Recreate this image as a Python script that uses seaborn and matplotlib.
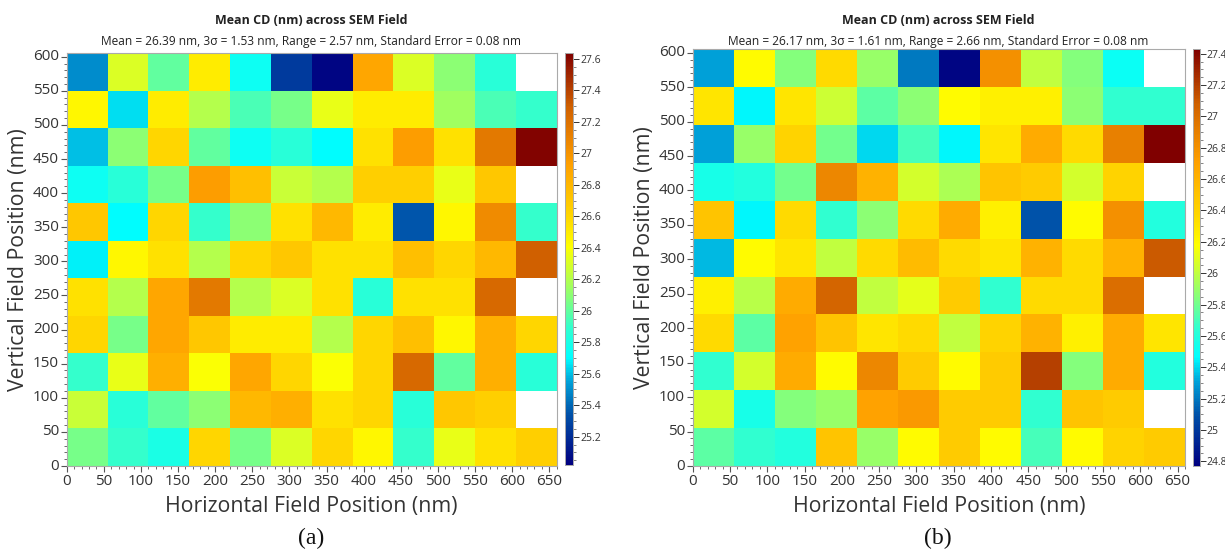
import numpy as np
import pandas as pd
import matplotlib
matplotlib.use("Agg")
import matplotlib.pyplot as plt
from matplotlib.colors import LinearSegmentedColormap
from matplotlib.ticker import MultipleLocator, FormatStrFormatter
import seaborn as sns

nan = np.nan
# cell size (nm) and positions
cell_nm = 55
x_pos = [i * cell_nm for i in range(12)]
y_pos = [i * cell_nm for i in range(11)]  # bottom to top

# rows listed top (y ~ 550-605) to bottom (y 0-55)
cd_a = [
    [25.50, 26.30, 26.00, 26.50, 25.75, 25.25, 25.05, 26.90, 26.30, 26.10, 25.85, nan],
    [26.45, 25.65, 26.50, 26.20, 25.95, 26.05, 26.35, 26.50, 26.50, 26.15, 25.95, 25.90],
    [25.60, 26.10, 26.60, 26.00, 25.75, 25.85, 25.70, 26.55, 26.95, 26.55, 27.15, 27.62],
    [25.75, 25.85, 26.05, 26.95, 26.75, 26.25, 26.20, 26.65, 26.65, 26.35, 26.70, nan],
    [26.70, 25.70, 26.60, 25.90, 26.10, 26.55, 26.80, 26.50, 25.35, 26.45, 27.05, 25.90],
    [25.68, 26.45, 26.55, 26.20, 26.60, 26.70, 26.55, 26.55, 26.75, 26.60, 26.80, 27.30],
    [26.55, 26.20, 26.90, 27.15, 26.20, 26.30, 26.55, 25.85, 26.55, 26.55, 27.25, nan],
    [26.60, 26.05, 26.90, 26.70, 26.50, 26.50, 26.20, 26.60, 26.75, 26.45, 26.85, 26.60],
    [25.90, 26.35, 26.85, 26.40, 26.90, 26.60, 26.40, 26.60, 27.25, 26.00, 26.85, 25.85],
    [26.25, 25.85, 26.00, 26.10, 26.80, 26.85, 26.55, 26.60, 25.85, 26.70, 26.65, nan],
    [26.05, 25.90, 25.80, 26.60, 26.05, 26.30, 26.60, 26.45, 25.90, 26.35, 26.55, 26.65],
]
cd_b = [
    [25.30, 26.20, 25.85, 26.35, 25.90, 25.20, 24.80, 26.80, 26.00, 25.85, 25.50, nan],
    [26.30, 25.45, 26.30, 26.03, 25.75, 25.87, 26.20, 26.25, 26.25, 25.87, 25.65, 25.65],
    [25.30, 25.90, 26.40, 25.80, 25.40, 25.70, 25.45, 26.30, 26.65, 26.35, 26.90, 27.43],
    [25.55, 25.60, 25.80, 26.85, 26.60, 26.05, 25.95, 26.50, 26.45, 26.05, 26.40, nan],
    [26.50, 25.45, 26.35, 25.65, 25.87, 26.35, 26.65, 26.25, 25.10, 26.20, 26.80, 25.60],
    [25.35, 26.20, 26.30, 26.00, 26.35, 26.55, 26.35, 26.30, 26.60, 26.35, 26.60, 27.10],
    [26.25, 25.98, 26.65, 27.05, 26.00, 26.10, 26.45, 25.65, 26.35, 26.35, 27.00, nan],
    [26.35, 25.75, 26.70, 26.50, 26.30, 26.35, 26.00, 26.40, 26.60, 26.25, 26.65, 26.30],
    [25.65, 26.05, 26.65, 26.20, 26.85, 26.45, 26.20, 26.45, 27.20, 25.85, 26.65, 25.60],
    [26.05, 25.55, 25.85, 25.90, 26.70, 26.75, 26.45, 26.45, 25.65, 26.50, 26.45, nan],
    [25.75, 25.65, 25.60, 26.50, 25.90, 26.20, 26.45, 26.20, 25.70, 26.20, 26.40, 26.45],
]
range_a = (25.02, 27.64)
range_b = (24.77, 27.43)
title = "Mean CD (nm) across SEM Field"
sub_a = "Mean = 26.39 nm, 3σ = 1.53 nm, Range = 2.57 nm, Standard Error = 0.08 nm"
sub_b = "Mean = 26.17 nm, 3σ = 1.61 nm, Range = 2.66 nm, Standard Error = 0.08 nm"
x_ticks = list(range(0, 651, 50))
y_ticks = list(range(0, 601, 50))
x_label = "Horizontal Field Position (nm)"
y_label = "Vertical Field Position (nm)"
captions = ["(a)", "(b)"]

sns.set_style("white")
plt.rcParams['font.family'] = ['Open Sans', 'DejaVu Sans']

cmap = LinearSegmentedColormap.from_list("cd", [
    (0.00, "#000080"), (0.12, "#0050a8"), (0.20, "#00a0d8"), (0.26, "#00ffff"),
    (0.33, "#30ffd0"), (0.40, "#80ff80"), (0.47, "#c8ff38"), (0.53, "#ffff00"),
    (0.60, "#ffd800"), (0.66, "#ffc000"), (0.73, "#ffa000"), (0.80, "#e88000"),
    (0.87, "#d06000"), (1.00, "#800000")])

fig = plt.figure(figsize=(12.25, 5.5), dpi=100)
W, H = 1225, 550

def fr(l, t, r, b):
    return [l / W, (H - b) / H, (r - l) / W, (b - t) / H]

panels = [
    (cd_a, range_a, sub_a, fr(66.7, 53.3, 556.7, 466), fr(565, 52.7, 573, 465), 311),
    (cd_b, range_b, sub_b, fr(692.7, 49.3, 1185, 466), fr(1193, 49, 1199.5, 466), 938),
]
grey = "#555555"
for k, (data, (vmin, vmax), sub, apos, cpos, cx) in enumerate(panels):
    ax = fig.add_axes(apos)
    cax = fig.add_axes(cpos)
    df = pd.DataFrame(data[::-1], index=y_pos, columns=x_pos)
    sns.heatmap(df, ax=ax, cbar_ax=cax, cmap=cmap, vmin=vmin, vmax=vmax,
                linewidths=0, square=False)
    ax.set_ylim(0, len(y_pos))
    ax.set_xlim(0, len(x_pos))
    ax.set_xticks([v / cell_nm for v in x_ticks])
    ax.set_xticklabels([str(v) for v in x_ticks], rotation=0, fontsize=11, color="#333333")
    ax.set_yticks([v / cell_nm for v in y_ticks])
    ax.set_yticklabels([str(v) for v in y_ticks], rotation=0, fontsize=11, color="#333333")
    ax.set_xticks([v / cell_nm for v in range(0, 661, 10)], minor=True)
    ax.set_yticks([v / cell_nm for v in range(0, 601, 10)], minor=True)
    ax.tick_params(which="major", length=4, width=0.8, color=grey, pad=1.5,
                   bottom=True, left=True)
    ax.tick_params(which="minor", length=2, width=0.6, color=grey, bottom=True, left=True)
    for s in ax.spines.values():
        s.set_visible(True)
        s.set_color("#aaaaaa")
        s.set_linewidth(0.8)
    ax.set_xlabel(x_label, fontsize=15.3, color="#333333", labelpad=5)
    ax.set_ylabel(y_label, fontsize=15.3, color="#333333", labelpad=3)
    fig.text(cx / W, 1 - 20 / H, title, ha="center", va="center",
             fontsize=9, fontweight="bold", color="#222222")
    fig.text(cx / W, 1 - 42 / H, sub, ha="center", va="center",
             fontsize=8.6, color="#222222")
    fig.text(cx / W, 1 - 538 / H, captions[k], ha="center", va="center",
             fontsize=17, family=["Liberation Serif", "DejaVu Serif"], color="#111111")
    cax.yaxis.set_major_locator(MultipleLocator(0.2))
    cax.yaxis.set_minor_locator(MultipleLocator(0.05))
    cax.yaxis.set_major_formatter(FormatStrFormatter("%g"))
    cax.tick_params(which="major", length=4, width=0.7, labelsize=7.5, color="#333333",
                    labelcolor="#333333", pad=1, right=True)
    cax.tick_params(which="minor", length=2, width=0.5, color="#555555", right=True)
    for s in cax.spines.values():
        s.set_visible(True)
        s.set_color("#aaaaaa")
        s.set_linewidth(0.6)

fig.savefig("out.png", dpi=100)
